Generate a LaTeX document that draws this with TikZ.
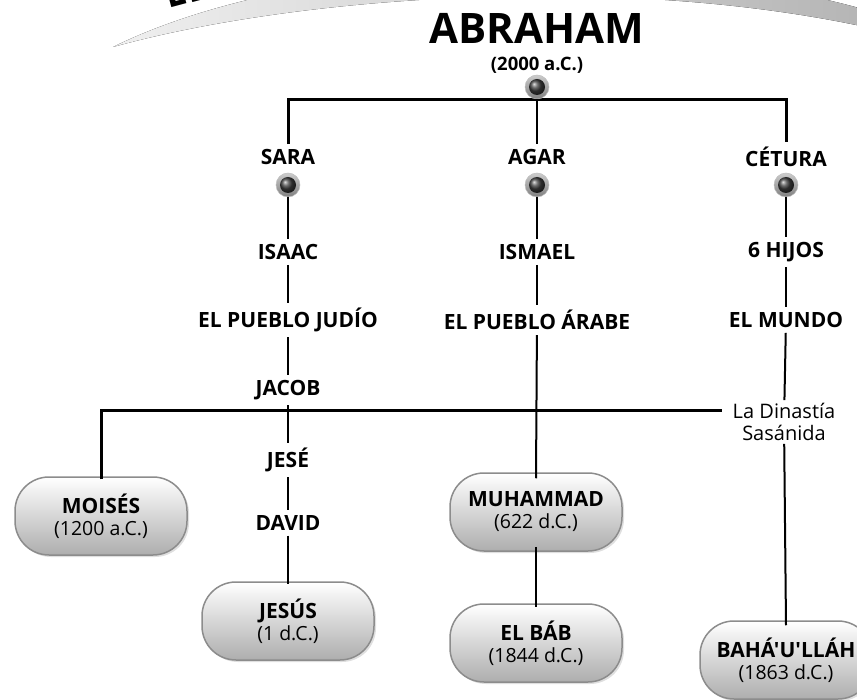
\documentclass[tikz,border=0pt]{standalone}
\usepackage{fontspec}
\setmainfont{Open Sans}
\usetikzlibrary{shadows,calc}
\newcommand{\bnm}{\bfseries\fontsize{21}{22}\selectfont}
\begin{document}
\begin{tikzpicture}[x=1pt,y=-1pt,
  lbl/.style={font=\bfseries\fontsize{21}{23}\selectfont, inner sep=5pt},
  reg/.style={font=\fontsize{20}{22}\selectfont, align=center, inner sep=3pt},
  conn/.style={line width=2pt, black},
  hconn/.style={line width=3pt, black},
  pill/.style={rounded corners=34pt, minimum width=172pt, minimum height=78pt,
    top color=white, bottom color=black!32, draw=black!45, line width=1.5pt,
    align=center, font=\fontsize{19.5}{22}\selectfont, inner sep=2pt,
    drop shadow={opacity=0.25, shadow xshift=2pt, shadow yshift=-2pt}},
  bulletouter/.style={circle, minimum size=24pt, inner sep=0pt, top color=black!20, bottom color=black!50, draw=black!25, line width=0.5pt},
  bulletinner/.style={circle, minimum size=16pt, inner sep=0pt, ball color=black!75},
]
\useasboundingbox (0,0) rectangle (857,700);
% swoosh
\fill[left color=black!6, middle color=black!62, right color=black!30]
  (113,47) .. controls (300,-5) and (640,-30) .. (900,35)
  -- (900,20) .. controls (650,-60) and (300,-45) .. (113,47) -- cycle;
\node[font=\bfseries\fontsize{38}{38}\selectfont, rotate=15, anchor=south west] (titlefrag) at (166,13) {EL};
% Abraham
\node[font=\bfseries\fontsize{42}{42}\selectfont, inner sep=0pt] (abraham) at (537,28) {ABRAHAM};
\node[font=\bfseries\fontsize{18.5}{20}\selectfont, inner sep=0pt] (adate) at (537,65) {(2000 a.C.)};
% first-level names
\node[lbl] (sara) at (288,157) {SARA};
\node[lbl] (agar) at (537,157) {AGAR};
\node[lbl] (cetura) at (786,157) {CÉTURA};
\coordinate (hl) at (537,100);
\draw[hconn] (sara.north) |- (hl) -| (cetura.north);
\node[bulletouter] (ab) at (537,87) {};
\node[bulletinner] (abi) at (537,87) {};
\draw[conn] (ab.south) -- (agar.north);
% bullets
\node[bulletouter] (bs) at (288,185) {};
\node[bulletinner] (bsi) at (288,185) {};
\node[bulletouter] (ba) at (537,185) {};
\node[bulletinner] (bai) at (537,185) {};
\node[bulletouter] (bc) at (786,185) {};
\node[bulletinner] (bci) at (786,185) {};
% column texts
\node[lbl] (isaac) at (288,252) {ISAAC};
\node[lbl] (ismael) at (537,252) {ISMAEL};
\node[lbl] (hijos) at (786,252) {6 HIJOS};
\node[lbl] (judio) at (288,320) {EL PUEBLO JUDÍO};
\node[lbl] (arabe) at (537,320) {EL PUEBLO ÁRABE};
\node[lbl] (mundo) at (786,320) {EL MUNDO};
\node[lbl] (jacob) at (288,390) {JACOB};
\node[reg] (dinastia) at (784,422) {La Dinastía\\Sasánida};
\node[lbl] (jese) at (288,460) {JESÉ};
\node[lbl] (david) at (288,523) {DAVID};
% boxes
\node[pill] (moises) at (101,516) {{\bnm MOISÉS}\\(1200 a.C.)};
\node[pill] (jesus) at (288,621) {{\bnm JESÚS}\\(1 d.C.)};
\node[pill] (muhammad) at (536,512) {{\bnm MUHAMMAD}\\(622 d.C.)};
\node[pill] (elbab) at (536,643) {{\bnm EL BÁB}\\(1844 d.C.)};
\node[pill] (bahaullah) at (786,660) {{\bnm\addfontfeatures{Ligatures=TeXOff}BAHÁ'U'LLÁH}\\(1863 d.C.)};
% connectors
\draw[conn] (bs.south) -- (isaac.north);
\draw[conn] (isaac) -- (judio);
\draw[conn] (judio) -- (jacob);
\draw[conn] (jacob) -- (jese);
\draw[conn] (jese) -- (david);
\draw[conn] (david) -- ([yshift=-3pt]jesus.north);
\draw[conn] (ba.south) -- (ismael.north);
\draw[conn] (ismael) -- (arabe);
\draw[conn] (arabe) -- ([yshift=-6pt]muhammad.north);
\draw[conn] ([yshift=5pt]muhammad.south) -- ([yshift=-4pt]elbab.north);
\draw[conn] (bc.south) -- (hijos.north);
\draw[conn] (hijos) -- (mundo);
\draw[conn] (mundo) -- (dinastia);
\draw[conn] (dinastia) -- ([yshift=-5pt]bahaullah.north);
\draw[hconn] ([yshift=-3pt]moises.north) |- ([yshift=11pt,xshift=-8pt]dinastia.west);
\end{tikzpicture}
\end{document}
